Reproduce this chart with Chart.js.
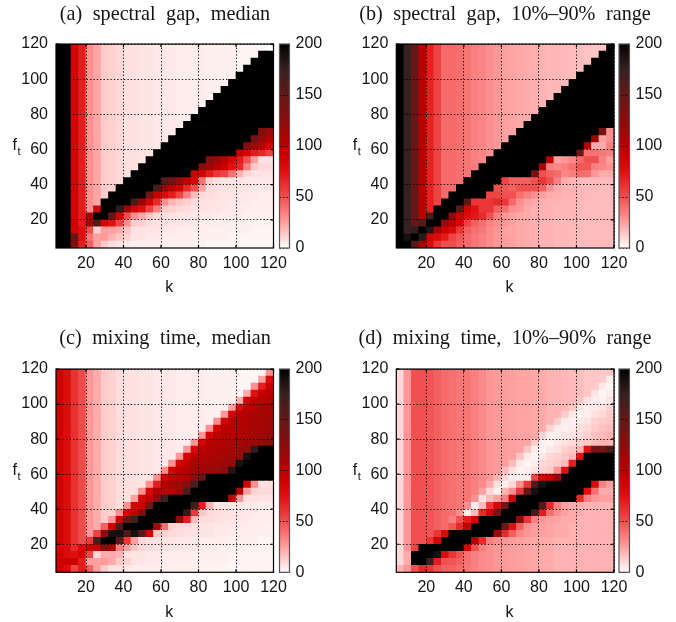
<!DOCTYPE html>
<html>
<head>
<meta charset="utf-8">
<style>
html,body{margin:0;padding:0;background:#fff;width:676px;height:622px;overflow:hidden}
canvas{position:absolute;display:block}
</style>
<script src="https://cdn.jsdelivr.net/npm/chart.js@4"></script>
</head>
<body>
<script>
const kCells=[6,10,14,18,22,26,30,34,38,42,46,50,54,58,62,66,70,74,78,82,86,90,94,98,102,106,110,114,118];
const ftCells=[118,114,110,106,102,98,94,90,86,82,78,74,70,66,62,58,54,50,46,42,38,34,30,26,22,18,14,10,6];
const kTicks=[20,40,60,80,100,120];
const ftTicks=[20,40,60,80,100,120];
const barTicks=[0,50,100,150,200];
const titles=["(a) spectral gap, median","(b) spectral gap, 10%–90% range","(c) mixing time, median","(d) mixing time, 10%–90% range"];

const gapMedian=[
[200,200,85,70,30,24,14,12,10,8,8,7,7,6,6,6,5,5,5,5,4,4,4,4,3,3,3,3,0],
[200,200,85,70,30,24,14,12,10,8,8,7,7,6,6,6,5,5,5,5,4,4,4,4,3,3,3,200,200],
[200,200,85,70,30,24,14,12,10,8,8,7,7,6,6,6,5,5,5,5,4,4,4,4,3,3,200,200,200],
[200,200,85,70,30,24,14,12,10,8,8,7,7,6,6,6,5,5,5,5,4,4,4,4,3,200,200,200,200],
[200,200,85,70,30,24,14,12,10,8,8,7,7,6,6,6,5,5,5,5,4,4,4,4,200,200,200,200,200],
[200,200,85,70,30,24,14,12,10,8,8,7,7,6,6,6,5,5,5,5,4,4,4,200,200,200,200,200,200],
[200,200,85,70,30,24,14,12,10,8,8,7,7,6,6,6,5,5,5,5,4,4,200,200,200,200,200,200,200],
[200,200,85,70,30,24,14,12,10,8,8,7,7,6,6,6,5,5,5,5,4,200,200,200,200,200,200,200,200],
[200,200,85,70,30,24,14,12,10,8,8,7,7,6,6,6,5,5,5,5,200,200,200,200,200,200,200,200,200],
[200,200,85,70,30,24,14,12,10,8,8,7,7,6,6,6,5,5,5,200,200,200,200,200,200,200,200,200,200],
[200,200,85,70,30,24,14,12,10,8,8,7,7,6,6,6,5,5,200,200,200,200,200,200,200,200,200,200,200],
[200,200,85,70,30,24,14,12,10,8,8,7,7,6,6,6,5,200,200,200,200,200,200,200,200,200,200,200,200],
[200,200,85,70,30,24,14,12,10,8,8,7,7,6,6,6,200,200,200,200,200,200,200,200,200,200,200,130,120],
[200,200,85,70,30,24,14,12,10,8,8,7,7,6,6,200,200,200,200,200,200,200,200,200,200,200,140,120,105],
[200,200,85,70,30,24,14,12,10,8,8,7,7,6,200,200,200,200,200,200,200,200,200,200,200,130,115,100,85],
[200,200,85,70,30,24,14,12,10,8,8,7,7,200,200,200,200,200,200,200,200,200,200,200,95,85,70,65,55],
[200,200,85,70,30,24,14,12,10,8,8,7,200,200,200,200,200,200,200,200,130,115,100,85,70,50,25,8,8],
[200,200,85,70,30,24,14,12,10,8,8,200,200,200,200,200,200,200,200,130,115,100,90,75,65,35,14,10,10],
[200,200,85,70,30,24,14,12,10,8,200,200,200,200,200,200,200,200,95,85,70,60,55,40,20,10,8,8,7],
[200,200,85,70,30,24,14,12,10,200,200,200,200,200,160,140,120,95,85,40,12,8,7,7,7,6,6,6,6],
[200,200,85,70,30,24,14,12,200,200,200,200,200,170,120,105,90,65,50,25,10,9,8,7,7,7,6,6,6],
[200,200,85,70,30,24,14,200,200,200,200,200,140,95,80,70,55,35,18,10,9,8,7,7,6,6,6,5,5],
[200,200,85,70,30,24,200,200,200,200,165,115,85,65,30,20,15,13,9,8,8,7,7,6,6,6,5,5,5],
[200,200,85,70,30,85,200,200,180,115,85,75,55,35,14,12,10,9,8,8,7,7,6,6,6,5,5,5,5],
[200,200,85,70,110,200,200,150,85,50,30,22,15,10,8,8,7,7,6,6,6,5,5,5,5,4,4,4,4],
[200,200,90,70,115,160,85,75,55,30,14,12,9,8,8,7,7,6,6,5,5,5,5,4,4,4,4,4,4],
[200,200,85,75,50,12,26,25,22,16,8,8,7,7,6,6,5,5,5,5,4,4,4,4,4,4,3,3,3],
[200,200,150,75,38,25,27,20,15,12,7,7,6,6,5,5,5,5,4,4,4,4,4,3,3,3,3,3,3],
[200,200,130,70,45,25,14,9,7,6,5,5,5,5,5,4,4,4,4,4,3,3,3,3,3,3,3,3,3]
];

const gapRange=[
[200,175,150,100,68,55,42,42,40,38,35,33,30,28,25,24,23,22,21,20,19,19,18,18,17,16,15,15,200],
[200,175,150,100,68,55,42,42,40,38,35,33,30,28,25,24,23,22,21,20,19,19,18,18,17,16,15,200,200],
[200,175,150,100,68,55,42,42,40,38,35,33,30,28,25,24,23,22,21,20,19,19,18,18,17,16,200,200,200],
[200,175,150,100,68,55,42,42,40,38,35,33,30,28,25,24,23,22,21,20,19,19,18,18,17,200,200,200,200],
[200,175,150,100,68,55,42,42,40,38,35,33,30,28,25,24,23,22,21,20,19,19,18,18,200,200,200,200,200],
[200,175,150,100,68,55,42,42,40,38,35,33,30,28,25,24,23,22,21,20,19,19,18,200,200,200,200,200,200],
[200,175,150,100,68,55,42,42,40,38,35,33,30,28,25,24,23,22,21,20,19,19,200,200,200,200,200,200,200],
[200,175,150,100,68,55,42,42,40,38,35,33,30,28,25,24,23,22,21,20,19,200,200,200,200,200,200,200,200],
[200,175,150,100,68,55,42,42,40,38,35,33,30,28,25,24,23,22,21,20,200,200,200,200,200,200,200,200,200],
[200,175,150,100,68,55,42,42,40,38,35,33,30,28,25,24,23,22,21,200,200,200,200,200,200,200,200,200,200],
[200,175,150,100,68,55,42,42,40,38,35,33,30,28,25,24,23,22,200,200,200,200,200,200,200,200,200,200,200],
[200,175,150,100,68,55,42,42,40,38,35,33,30,28,25,24,23,200,200,200,200,200,200,200,200,200,200,200,200],
[200,175,150,100,68,55,42,42,40,38,35,33,30,28,25,24,200,200,200,200,200,200,200,200,200,200,200,140,30],
[200,175,150,100,68,55,42,42,40,38,35,33,30,28,25,200,200,200,200,200,200,200,200,200,200,200,115,25,30],
[200,175,150,100,68,55,42,42,40,38,35,33,30,28,200,200,200,200,200,200,200,200,200,200,200,105,22,22,35],
[200,175,150,100,68,55,42,42,40,38,35,33,30,200,200,200,200,200,200,200,200,200,200,200,145,40,40,38,35],
[200,175,150,100,68,55,42,42,40,38,35,33,200,200,200,200,200,200,200,200,100,25,28,33,42,50,50,35,25],
[200,175,150,100,68,55,42,42,40,38,35,200,200,200,200,200,200,200,200,110,35,33,35,40,48,48,35,33,30],
[200,175,150,100,68,55,42,42,40,38,200,200,200,200,200,200,200,200,140,50,45,42,33,35,42,40,28,22,22],
[200,175,150,100,68,55,42,42,40,200,200,200,200,200,55,45,45,45,50,60,50,35,22,19,18,18,18,18,18],
[200,175,150,100,68,55,42,42,200,200,200,200,200,50,48,45,50,50,50,45,30,22,20,20,19,18,18,18,18],
[200,175,150,100,68,55,42,200,200,200,200,200,55,55,50,50,40,35,30,25,22,21,20,20,19,19,18,18,18],
[200,175,150,100,68,55,200,200,200,155,60,60,60,65,60,42,30,25,22,21,20,20,19,19,19,18,18,18,18],
[200,175,150,100,68,200,200,200,155,85,75,60,60,45,40,30,28,23,21,20,20,19,19,19,18,18,18,18,18],
[200,175,150,100,165,200,200,125,90,80,72,65,50,35,28,25,23,22,21,20,20,19,19,19,18,18,18,18,18],
[200,175,150,160,200,200,120,100,85,55,45,40,35,30,28,25,23,22,21,20,20,19,19,19,18,18,18,18,18],
[200,175,178,200,185,115,90,80,60,45,40,38,32,28,25,24,23,22,21,20,20,19,19,18,18,18,18,18,18],
[200,190,200,180,85,80,70,55,48,42,38,35,32,28,26,25,23,22,21,20,20,19,19,18,18,18,18,18,18],
[200,200,160,110,80,60,50,50,45,42,38,35,32,28,26,25,23,22,21,20,20,19,19,18,18,18,18,18,18]
];

const mixMedian=[
[90,78,62,52,28,22,14,12,9,8,8,7,7,6,6,6,5,5,5,5,4,4,4,4,3,3,3,3,30],
[90,78,62,52,28,22,14,12,9,8,8,7,7,6,6,6,5,5,5,5,4,4,4,4,3,3,3,25,80],
[90,78,62,52,28,22,14,12,9,8,8,7,7,6,6,6,5,5,5,5,4,4,4,4,3,3,30,70,90],
[90,78,62,52,28,22,14,12,9,8,8,7,7,6,6,6,5,5,5,5,4,4,4,4,3,22,75,95,100],
[90,78,62,52,28,22,14,12,9,8,8,7,7,6,6,6,5,5,5,5,4,4,4,4,22,85,100,100,105],
[90,78,62,52,28,22,14,12,9,8,8,7,7,6,6,6,5,5,5,5,4,4,4,25,80,100,100,110,110],
[90,78,62,52,28,22,14,12,9,8,8,7,7,6,6,6,5,5,5,5,4,4,28,85,100,105,110,110,112],
[90,78,62,52,28,22,14,12,9,8,8,7,7,6,6,6,5,5,5,5,4,30,85,100,105,105,110,112,115],
[90,78,62,52,28,22,14,12,9,8,8,7,7,6,6,6,5,5,5,5,30,85,100,100,105,108,110,112,115],
[90,78,62,52,28,22,14,12,9,8,8,7,7,6,6,6,5,5,5,28,85,100,105,105,108,110,112,115,118],
[90,78,62,52,28,22,14,12,9,8,8,7,7,6,6,6,5,5,28,85,100,105,105,108,110,115,118,122,125],
[90,78,62,52,28,22,14,12,9,8,8,7,7,6,6,6,5,28,85,100,105,108,110,112,118,122,180,200,200],
[90,78,62,52,28,22,14,12,9,8,8,7,7,6,6,6,28,85,100,105,108,110,112,115,120,190,200,200,200],
[90,78,62,52,28,22,14,12,9,8,8,7,7,6,6,30,85,95,110,110,112,115,118,120,190,200,200,200,200],
[90,78,62,52,28,22,14,12,9,8,8,7,7,6,30,85,100,105,112,115,118,120,125,185,200,200,200,200,200],
[90,78,62,52,28,22,14,12,9,8,8,7,7,30,85,100,105,105,125,150,200,200,200,200,200,200,200,200,200],
[90,78,62,52,28,22,14,12,9,8,8,7,30,70,100,110,115,130,165,200,200,200,200,200,200,90,30,8,8],
[90,78,62,52,28,22,14,12,9,8,8,30,85,105,105,105,115,165,200,200,200,200,200,200,100,25,12,10,10],
[90,78,62,52,28,22,14,12,9,8,25,85,95,130,175,200,200,200,200,200,200,200,200,95,28,8,8,7,7],
[90,78,62,52,28,22,14,12,9,30,85,90,145,200,200,200,200,200,170,70,20,7,7,6,6,6,6,5,5],
[90,78,62,52,28,22,14,12,30,85,100,130,200,200,200,200,200,180,60,15,10,9,8,7,7,6,6,5,5],
[90,78,62,52,28,22,14,28,90,150,170,200,200,200,200,200,125,70,18,10,9,8,7,7,6,6,5,5,5],
[90,78,62,52,28,22,45,90,165,200,200,200,200,110,40,12,10,9,8,7,7,6,6,6,5,5,5,5,4],
[90,78,62,52,28,55,125,190,190,160,190,160,90,15,12,10,9,8,8,7,7,6,6,5,5,5,5,4,4],
[90,78,62,52,60,165,200,200,155,60,25,10,8,8,7,7,6,6,6,5,5,5,5,4,4,4,4,3,3],
[85,80,65,80,88,90,135,110,35,25,15,10,9,8,8,7,7,6,6,5,5,5,4,4,4,4,3,3,3],
[90,80,75,85,55,10,22,22,20,8,7,7,6,6,5,5,5,5,4,4,4,4,4,3,3,3,3,3,3],
[90,90,90,70,25,25,27,22,14,12,7,7,6,6,5,5,5,5,4,4,4,4,4,3,3,3,3,3,3],
[90,80,55,70,45,25,14,8,8,6,5,5,5,5,5,4,4,4,4,4,3,3,3,3,3,3,3,3,3]
];

const mixRange=[
[10,28,50,50,48,45,42,40,38,38,35,32,28,27,26,25,24,24,23,22,20,20,19,18,17,15,15,15,15],
[10,28,50,50,48,45,42,40,38,38,35,32,28,27,26,25,24,24,23,22,20,20,19,18,17,15,15,14,4],
[10,28,50,50,48,45,42,40,38,38,35,32,28,27,26,25,24,24,23,22,20,20,19,18,17,15,14,6,3],
[10,28,50,50,48,45,42,40,38,38,35,32,28,27,26,25,24,24,23,22,20,20,19,18,17,15,7,3,5],
[10,28,50,50,48,45,42,40,38,38,35,32,28,27,26,25,24,24,23,22,20,20,19,18,15,8,5,4,8],
[10,28,50,50,48,45,42,40,38,38,35,32,28,27,26,25,24,24,23,22,20,20,19,15,7,5,6,8,12],
[10,28,50,50,48,45,42,40,38,38,35,32,28,27,26,25,24,24,23,22,20,20,14,6,3,5,8,10,14],
[10,28,50,50,48,45,42,40,38,38,35,32,28,27,26,25,24,24,23,22,20,13,5,4,6,8,12,14,15],
[10,28,50,50,48,45,42,40,38,38,35,32,28,27,26,25,24,24,23,22,12,5,4,6,8,10,14,16,18],
[10,28,50,50,48,45,42,40,38,38,35,32,28,27,26,25,24,24,23,12,4,5,7,8,10,12,16,18,20],
[10,28,50,50,48,45,42,40,38,38,35,32,28,27,26,25,24,24,14,4,3,6,8,10,12,15,18,20,20],
[10,28,50,50,48,45,42,40,38,38,35,32,28,27,26,25,24,15,5,3,6,8,12,15,20,75,140,140,165],
[10,28,50,50,48,45,42,40,38,38,35,32,28,27,26,25,16,6,3,6,10,12,15,18,75,200,200,200,200],
[10,28,50,50,48,45,42,40,38,38,35,32,28,27,26,18,6,3,5,10,12,14,18,70,200,200,200,200,200],
[10,28,50,50,48,45,42,40,38,38,35,32,28,27,18,8,3,5,8,12,14,30,75,200,200,200,200,200,200],
[10,28,50,50,48,45,42,40,38,38,35,32,28,20,10,4,4,5,55,85,90,120,200,200,200,200,200,200,200],
[10,28,50,50,48,45,42,40,38,38,35,32,22,8,4,10,30,60,160,190,200,200,200,200,200,200,80,35,25],
[10,28,50,50,48,45,42,40,38,38,35,25,10,4,20,30,60,150,190,200,200,200,200,200,200,75,40,22,22],
[10,28,50,50,48,45,42,40,38,38,30,8,18,25,35,90,200,200,200,200,200,200,200,200,65,35,28,25,25],
[10,28,50,50,48,45,42,40,38,30,5,18,60,85,140,200,200,200,200,160,65,35,25,22,22,20,20,20,20],
[10,28,50,50,48,45,42,40,30,5,18,65,85,140,200,200,200,200,170,70,40,30,25,22,22,20,20,20,20],
[10,28,50,50,48,45,42,35,50,70,85,200,200,200,200,200,130,60,35,28,25,24,22,22,20,20,20,20,20],
[10,28,50,50,48,45,42,48,65,95,200,200,200,200,140,75,45,30,26,25,24,22,22,20,20,20,20,20,20],
[10,28,50,50,48,60,80,200,200,200,200,200,200,115,65,45,33,28,26,25,24,22,22,20,20,20,20,20,20],
[10,28,50,50,60,85,200,200,200,200,110,65,35,30,28,26,25,24,23,22,22,20,20,20,20,20,20,20,20],
[10,28,55,200,200,200,200,200,200,85,50,35,30,28,27,26,25,24,23,22,22,20,20,20,20,20,20,20,20],
[10,22,200,200,200,190,80,60,50,40,35,32,30,28,27,26,25,24,23,22,22,20,20,20,20,20,20,20,20],
[10,22,200,200,175,70,50,48,45,40,35,32,30,28,27,26,25,24,23,22,22,20,20,20,20,20,20,20,20],
[20,28,50,65,60,50,45,45,42,38,35,32,30,28,27,26,25,24,23,22,22,20,20,20,20,20,20,20,20]
];

const matrices=[gapMedian,gapRange,mixMedian,mixRange];

/* colour ramp of the reference's colour bar */
const rampStops=[[0,255,255,255],[25,255,160,160],[50,240,80,80],[75,224,16,16],[90,204,0,0],[100,187,0,0],[125,140,12,12],[150,100,24,24],[175,56,32,32],[190,24,16,16],[200,0,0,0]];
function colorOf(v){
  for(let i=1;i<rampStops.length;i++){
    const a=rampStops[i-1],b=rampStops[i];
    if(v<=b[0]){
      const t=(v-a[0])/(b[0]-a[0]);
      return `rgb(${Math.round(a[1]+(b[1]-a[1])*t)},${Math.round(a[2]+(b[2]-a[2])*t)},${Math.round(a[3]+(b[3]-a[3])*t)})`;
    }
  }
  return '#000';
}

const INK='#151515';
const SANS='"Liberation Sans",Arial,sans-serif';
const SERIF='"Liberation Serif","Times New Roman",serif';
const LABEL_SIZE=16;
Chart.defaults.font.family=SANS;
Chart.defaults.color=INK;

function makeCanvas(left,top,w,h){
  const c=document.createElement('canvas');
  c.width=w;c.height=h;
  c.style.left=left+'px';c.style.top=top+'px';c.style.width=w+'px';c.style.height=h+'px';
  document.body.appendChild(c);
  return c;
}

const framePlugin={
  id:'frame',
  beforeDraw(chart){ chart.ctx.wordSpacing=(chart.options.plugins.frame.wordSpacing||0)+'px'; },
  afterDraw(chart){
    const o=chart.options.plugins.frame,a=chart.chartArea,ctx=chart.ctx;
    ctx.save();
    ctx.strokeStyle=o.color;ctx.lineWidth=o.width;
    ctx.beginPath();
    if(o.inward>0){
      const x=chart.scales.x,y=chart.scales.y;
      x.ticks.forEach(t=>{const p=x.getPixelForValue(t.value);ctx.moveTo(p,a.bottom);ctx.lineTo(p,a.bottom-o.inward);ctx.moveTo(p,a.top);ctx.lineTo(p,a.top+o.inward);});
      y.ticks.forEach(t=>{const p=y.getPixelForValue(t.value);ctx.moveTo(a.left,p);ctx.lineTo(a.left+o.inward,p);ctx.moveTo(a.right,p);ctx.lineTo(a.right-o.inward,p);});
    }
    ctx.stroke();
    ctx.strokeRect(a.left,a.top,a.right-a.left,a.bottom-a.top);
    if(o.yLabel){
      ctx.fillStyle=INK;ctx.textAlign='left';ctx.textBaseline='alphabetic';
      ctx.font=`${LABEL_SIZE}px ${SANS}`;
      ctx.fillText('f',a.left-43.5,a.top+106);
      ctx.font=`11px ${SANS}`;
      ctx.fillText('t',a.left-38.5,a.top+111);
    }
    ctx.restore();
  }
};

function gridOpts(){return {color:'rgba(0,0,0,0.85)',lineWidth:1,z:1,drawTicks:false,offset:false};}
function borderOpts(){return {display:false,dash:[1.4,2]};}

function drawPanel(i,left,top,w,plotLeft,plotRight,titleTop,titleBottom,xAxisH){
  const matrix=matrices[i];
  const points=[],colors=[];
  ftCells.forEach((ft,r)=>kCells.forEach((k,c)=>{
    /* each cell reaches a little into its right and lower neighbour, painted over next */
    points.push({x:k+0.13,y:[ft-2.3,ft+2]});
    colors.push(colorOf(matrix[r][c]));
  }));
  new Chart(makeCanvas(left,top,w,300),{
    type:'bar',
    data:{datasets:[{data:points,backgroundColor:colors,borderWidth:0,barThickness:8,grouped:false}]},
    options:{
      responsive:false,animation:false,events:[],
      plugins:{
        legend:{display:false},tooltip:{enabled:false},
        title:{display:true,text:titles[i],color:INK,font:{family:SERIF,size:20.2,weight:'normal',lineHeight:1.2},padding:{top:titleTop,bottom:titleBottom}},
        frame:{color:'#000',width:1.2,inward:3,yLabel:true,wordSpacing:5.5}
      },
      scales:{
        x:{type:'linear',min:4,max:120,offset:false,
          afterBuildTicks:s=>{s.ticks=kTicks.map(v=>({value:v}));},
          afterFit:s=>{s.height=xAxisH;},
          ticks:{font:{size:LABEL_SIZE},color:INK,padding:6,maxRotation:0,autoSkip:false},
          grid:gridOpts(),border:borderOpts(),
          title:{display:true,text:'  k',color:INK,font:{size:LABEL_SIZE},padding:{top:0,bottom:2.6}}},
        y:{type:'linear',min:4,max:120,
          afterBuildTicks:s=>{s.ticks=ftTicks.map(v=>({value:v}));},
          afterFit:s=>{s.width=plotLeft;},
          ticks:{font:{size:LABEL_SIZE},color:INK,padding:8,autoSkip:false},
          grid:gridOpts(),border:borderOpts()},
        /* empty right-hand axis: keeps the space for the colour bar while the title stays centred on the canvas */
        spacer:{type:'linear',position:'right',min:0,max:1,
          afterFit:s=>{s.width=w-plotRight;},
          ticks:{display:false},grid:{display:false},border:{display:false}}
      }
    },
    plugins:[framePlugin]
  });
}

const barLevels=[];
for(let v=0;v<200;v+=2) barLevels.push(v);

function drawBar(left,top,w,padLeft,barW,padTop,padBottom){
  new Chart(makeCanvas(left,top,w,300),{
    type:'bar',
    data:{datasets:[{data:barLevels.map(v=>({x:0.5,y:[v,v+3]})),backgroundColor:barLevels.map(v=>colorOf(v+1)),borderWidth:0,barThickness:barW,grouped:false}]},
    options:{
      responsive:false,animation:false,events:[],
      layout:{padding:{left:padLeft,right:0,top:padTop,bottom:padBottom}},
      plugins:{legend:{display:false},tooltip:{enabled:false},frame:{color:'#555',width:1.2,inward:0,yLabel:false}},
      scales:{
        x:{type:'linear',min:0,max:1,display:false,offset:false,grid:{display:false}},
        y:{type:'linear',position:'right',min:0,max:200,
          afterBuildTicks:s=>{s.ticks=barTicks.map(v=>({value:v}));},
          afterFit:s=>{s.width=w-padLeft-barW;},
          ticks:{font:{size:LABEL_SIZE},color:INK,padding:6,autoSkip:false},
          grid:gridOpts(),border:borderOpts()}
      }
    },
    plugins:[framePlugin]
  });
}

drawPanel(0,0,0,330,56,273.5,2.9,16.9,52);
drawPanel(1,338,0,334,58.3,276,2.9,16.9,52);
drawPanel(2,0,325,330,56,273.5,1.9,17.9,52.7);
drawPanel(3,338,325,334,58.3,276,1.9,17.9,52.7);
drawBar(275,0,60,4.5,10,44,52);
drawBar(615,0,60,4,10.5,44,52);
drawBar(275,325,60,4.5,10,44,52.7);
drawBar(615,325,60,4,10.5,44,52.7);
</script>
</body>
</html>
